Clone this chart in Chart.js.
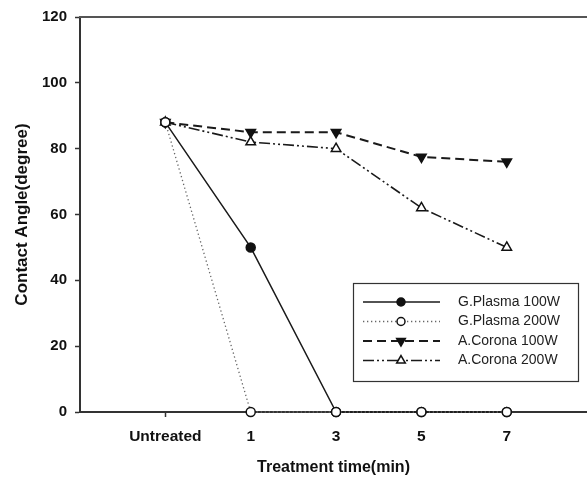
<!DOCTYPE html>
<html>
<head>
<meta charset="utf-8">
<script src="https://cdn.jsdelivr.net/npm/chart.js@4/dist/chart.umd.min.js"></script>
<style>
html,body{margin:0;padding:0;background:#fff;}
#wrap{width:587px;height:480px;position:relative;}
</style>
</head>
<body>
<div id="wrap"><canvas id="c" width="587" height="480"></canvas></div>
<script>
const categories = ["Untreated", "1", "3", "5", "7"];
const gPlasma100 = [88, 50, 0, 0, 0];
const gPlasma200 = [88, 0, 0, 0, 0];
const aCorona100 = [88, 85, 85, 77.5, 76];
const aCorona200 = [88, 82, 80, 62, 50];
const seriesNames = ["G.Plasma 100W", "G.Plasma 200W", "A.Corona 100W", "A.Corona 200W"];
const yTicks = [0, 20, 40, 60, 80, 100, 120];

const toPts = arr => arr.map((v, i) => ({x: i, y: v}));

const styles = [
  {color:'#1a1a1a', width:1.5, dash:[], pointStyle:'circle', radius:4.5, fill:'#111', rotation:0, order:2},
  {color:'#666', width:1.3, dash:[1.3,2.7], pointStyle:'circle', radius:4.5, fill:'#fff', rotation:0, order:0},
  {color:'#1a1a1a', width:2, dash:[9,5], pointStyle:'triangle', radius:5.5, fill:'#111', rotation:180, order:3},
  {color:'#1a1a1a', width:1.6, dash:[11,3,2,3,2,3], pointStyle:'triangle', radius:5.5, fill:'#fff', rotation:0, order:1}
];
const seriesData = [gPlasma100, gPlasma200, aCorona100, aCorona200];

const datasets = seriesData.map((d, i) => {
  const s = styles[i];
  return {
    label: seriesNames[i],
    data: toPts(d),
    borderColor: s.color,
    borderWidth: s.width,
    borderDash: s.dash,
    pointStyle: s.pointStyle,
    pointRadius: s.radius,
    pointRotation: s.rotation,
    pointBackgroundColor: s.fill,
    pointBorderColor: '#111',
    pointBorderWidth: 1.5,
    order: s.order,
    clip: false,
    tension: 0
  };
});

const frame = {
  id: 'frame',
  afterDraw(chart) {
    const {ctx, chartArea} = chart;
    ctx.save();
    ctx.strokeStyle = '#555';
    ctx.lineWidth = 2;
    ctx.beginPath();
    ctx.moveTo(chartArea.left - 1, chartArea.top);
    ctx.lineTo(chart.width, chartArea.top);
    ctx.stroke();
    ctx.restore();
  }
};

const legendBox = {
  id: 'legendBox',
  afterDraw(chart) {
    const ctx = chart.ctx;
    ctx.save();
    ctx.strokeStyle = '#333';
    ctx.lineWidth = 1.2;
    ctx.strokeRect(353.5, 283.5, 225, 98);
    const rows = [302, 321.5, 341, 360.5];
    seriesNames.forEach((name, i) => {
      const s = styles[i];
      const y = rows[i];
      ctx.strokeStyle = s.color;
      ctx.lineWidth = s.width;
      ctx.setLineDash(s.dash);
      ctx.beginPath();
      ctx.moveTo(363, y);
      ctx.lineTo(440, y);
      ctx.stroke();
      ctx.setLineDash([]);
      ctx.fillStyle = s.fill;
      ctx.strokeStyle = '#111';
      ctx.lineWidth = 1.5;
      Chart.helpers.drawPoint(ctx, {pointStyle: s.pointStyle, radius: s.radius - 0.5, rotation: s.rotation, borderWidth: 1.5}, 401, y);
      ctx.fillStyle = '#222';
      ctx.font = '14px "Liberation Sans", Arial, sans-serif';
      ctx.textBaseline = 'middle';
      ctx.textAlign = 'left';
      ctx.fillText(name, 458, y);
    });
    ctx.restore();
  }
};

new Chart(document.getElementById('c'), {
  type: 'line',
  data: { datasets },
  options: {
    responsive: false,
    animation: false,
    layout: { autoPadding: false, padding: { top: 16, right: 0, left: 0, bottom: 0 } },
    plugins: { legend: { display: false }, tooltip: { enabled: false } },
    scales: {
      x: {
        type: 'linear',
        min: -1,
        max: 4.94,
        afterBuildTicks: s => { s.ticks = categories.map((c, i) => ({value: i})); },
        afterFit: s => { s.height = 68; s.paddingRight = 0; s.paddingLeft = 0; },
        ticks: {
          callback: v => categories[v],
          font: { family: '"Liberation Sans", Arial, sans-serif', size: 15.5, weight: 'bold' },
          color: '#111',
          padding: 10,
          maxRotation: 0,
          autoSkip: false
        },
        grid: { drawOnChartArea: false, drawTicks: true, tickLength: 5, tickColor: '#333', tickWidth: 1.5 },
        border: { color: '#333', width: 2 },
        title: {
          display: true,
          text: 'Treatment time(min)',
          font: { family: '"Liberation Sans", Arial, sans-serif', size: 16, weight: 'bold' },
          color: '#111',
          padding: { top: 0, bottom: 3 }
        }
      },
      y: {
        min: 0,
        max: 120,
        afterBuildTicks: s => { s.ticks = yTicks.map(v => ({value: v})); },
        afterFit: s => { s.width = 80; },
        ticks: {
          font: { family: '"Liberation Sans", Arial, sans-serif', size: 15, weight: 'bold' },
          color: '#111',
          padding: 8
        },
        grid: { drawOnChartArea: false, drawTicks: true, tickLength: 5, tickColor: '#333', tickWidth: 1.5 },
        border: { color: '#333', width: 2 },
        title: {
          display: true,
          text: 'Contact Angle(degree)',
          font: { family: '"Liberation Sans", Arial, sans-serif', size: 17, weight: 'bold' },
          color: '#111',
          padding: { top: 12, bottom: 0 }
        }
      }
    }
  },
  plugins: [frame, legendBox]
});
</script>
</body>
</html>
